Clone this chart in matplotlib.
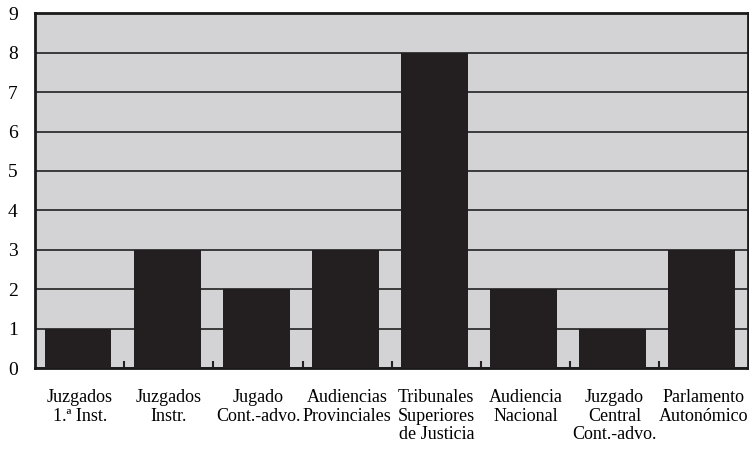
import matplotlib
matplotlib.use("Agg")
import matplotlib.pyplot as plt
import numpy as np

categories = [
    "Juzgados\n1.ª Inst.",
    "Juzgados\nInstr.",
    "Jugado\nCont.-advo.",
    "Audiencias\nProvinciales",
    "Tribunales\nSuperiores\nde Justicia",
    "Audiencia\nNacional",
    "Juzgado\nCentral\nCont.-advo.",
    "Parlamento\nAutonómico",
]
values = [1, 3, 2, 3, 8, 2, 1, 3]
yticks = list(range(0, 10))

plt.rcParams["font.family"] = ["Liberation Serif", "DejaVu Serif"]

fig = plt.figure(figsize=(7.49, 4.54), dpi=100)
ax = fig.add_axes([0.047, 0.189, 0.952, 0.782])
ax.set_facecolor("#d3d3d5")

x = np.arange(len(categories))
ax.set_axisbelow(True)
ax.yaxis.grid(True, color="#3a3a3a", linewidth=1.4)
ax.bar(x - 0.02, values, width=0.75, color="#231f20", zorder=3)

ax.set_xlim(-0.5, len(categories) - 0.5)
ax.set_ylim(0, 9)
ax.set_yticks(yticks)
ax.set_xticks(x)
ax.set_xticklabels(categories, fontsize=13, linespacing=1.12)
ax.set_xticks(np.arange(len(categories) - 1) + 0.5, minor=True)
ax.tick_params(axis="x", which="major", length=0, pad=15)
ax.tick_params(axis="x", which="minor", direction="in", length=5, width=1.5, color="#231f20")
ax.tick_params(axis="y", length=0, pad=16, labelsize=14)
for lbl in ax.get_yticklabels():
    lbl.set_horizontalalignment("center")

for s in ax.spines.values():
    s.set_linewidth(2)
    s.set_color("#1a1a1a")

fig.savefig("out.png", dpi=100)
